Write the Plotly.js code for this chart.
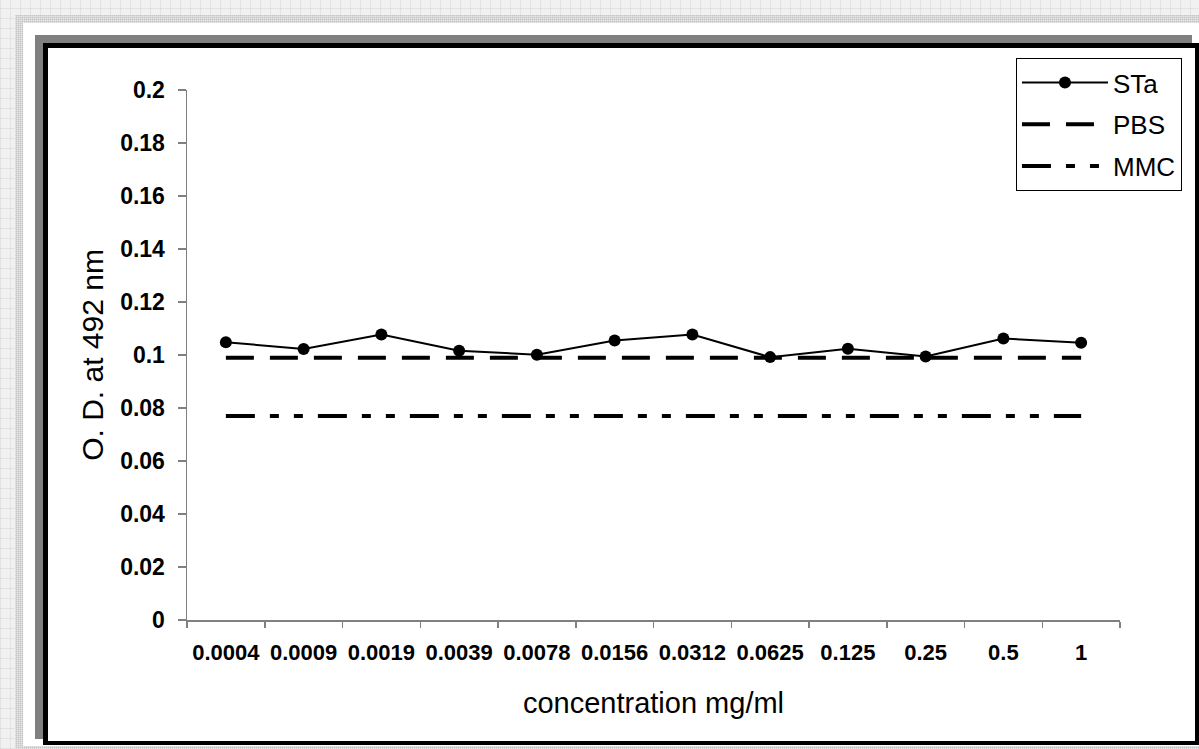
<!DOCTYPE html>
<html>
<head>
<meta charset="utf-8">
<script src="https://cdn.plot.ly/plotly-3.0.1.min.js"></script>
<style>
  html, body { margin:0; padding:0; width:1199px; height:749px; overflow:hidden; }
  body {
    position:relative;
    background-color:#f1f1f1;
    background-image:
      repeating-linear-gradient(0deg, rgba(0,0,0,0.06) 0 1px, transparent 1px 10px),
      repeating-linear-gradient(90deg, rgba(0,0,0,0.06) 0 1px, transparent 1px 10px);
  }
  #band { position:absolute; left:15px; top:15px; right:0; bottom:0;
    background-color:#c4c4c4;
    background-image:
      repeating-linear-gradient(0deg, rgba(255,255,255,0.35) 0 1px, transparent 1px 2px),
      repeating-linear-gradient(90deg, rgba(255,255,255,0.35) 0 1px, transparent 1px 2px);
  }
  #inner { position:absolute; left:23px; top:23px; right:0; bottom:3px; background:#ffffff; }
  #shadow { position:absolute; left:35px; top:35px; width:1157px; height:704px; background:#808080; }
  #frame { position:absolute; left:43px; top:43px; width:1156px; height:702px; box-sizing:border-box;
    border:5px solid #000; border-right-width:4px; border-bottom-width:4px; background:#fff; }
  #chart { position:absolute; left:0; top:0; width:1199px; height:749px; }
</style>
</head>
<body>
<div id="band"></div>
<div id="inner"></div>
<div id="shadow"></div>
<div id="frame"></div>
<div id="chart"></div>
<script>
const categories = ['0.0004','0.0009','0.0019','0.0039','0.0078','0.0156','0.0312','0.0625','0.125','0.25','0.5','1'];
const staValues = [0.1048,0.1023,0.1077,0.1016,0.1001,0.1055,0.1077,0.0992,0.1024,0.0994,0.1062,0.1046];
const pbsValues = [0.099,0.099,0.099,0.099,0.099,0.099,0.099,0.099,0.099,0.099,0.099,0.099];
const mmcValues = [0.077,0.077,0.077,0.077,0.077,0.077,0.077,0.077,0.077,0.077,0.077,0.077];
const seriesNames = ['STa','PBS','MMC'];

const FONT = 'Liberation Sans, Arial, Helvetica, sans-serif';

const traces = [
  { x: categories, y: staValues, name: seriesNames[0], legendgroup:'g1', type:'scatter', mode:'lines+markers',
    line:{color:'#000', width:2}, marker:{color:'#000', size:12, symbol:'circle'} },
  { x: categories, y: pbsValues, name: seriesNames[1], legendgroup:'g2', type:'scatter', mode:'lines',
    line:{color:'#000', width:4, dash:'28px,16px'} },
  { x: categories, y: mmcValues, name: seriesNames[2], legendgroup:'g3', type:'scatter', mode:'lines',
    line:{color:'#000', width:4, dash:'29px,15px,9px,15px,9px,15px'} }
];

const layout = {
  width:1199, height:749,
  margin:{l:187, r:79, t:90, b:129, pad:0},
  paper_bgcolor:'rgba(0,0,0,0)', plot_bgcolor:'rgba(0,0,0,0)',
  font:{family:FONT, color:'#000'},
  showlegend:true,
  legend:{x:0.8885, y:1.0604, xanchor:'left', yanchor:'top',
    bordercolor:'#000', borderwidth:1, bgcolor:'#fff', traceorder:'grouped', tracegroupgap:5,
    font:{family:FONT, size:26, color:'#000'}, itemwidth:86},
  xaxis:{type:'category', range:[-0.5, 11.5], showline:true, linecolor:'#808080', linewidth:1.5,
    ticks:'outside', ticklen:6, tickwidth:1.5, tickcolor:'#808080', tickson:'boundaries',
    showgrid:false, zeroline:false, fixedrange:true, ticklabelstandoff:12,
    tickfont:{family:FONT, size:22, color:'#000', weight:'bold'},
    title:{text:'concentration mg/ml', font:{family:FONT, size:29, color:'#000'}, standoff:29}},
  yaxis:{range:[0, 0.2], dtick:0.02, tick0:0, tickformat:'~g', showline:true, linecolor:'#808080', linewidth:1.5,
    ticks:'outside', ticklen:8, tickwidth:1.5, tickcolor:'#808080',
    showgrid:false, zeroline:false, fixedrange:true, ticklabelstandoff:8,
    tickfont:{family:FONT, size:23, color:'#000', weight:'bold'},
    title:{text:'O. D. at 492 nm', font:{family:FONT, size:30, color:'#000'}, standoff:7}}
};

Plotly.newPlot('chart', traces, layout, {displayModeBar:false, staticPlot:true});
</script>
</body>
</html>
